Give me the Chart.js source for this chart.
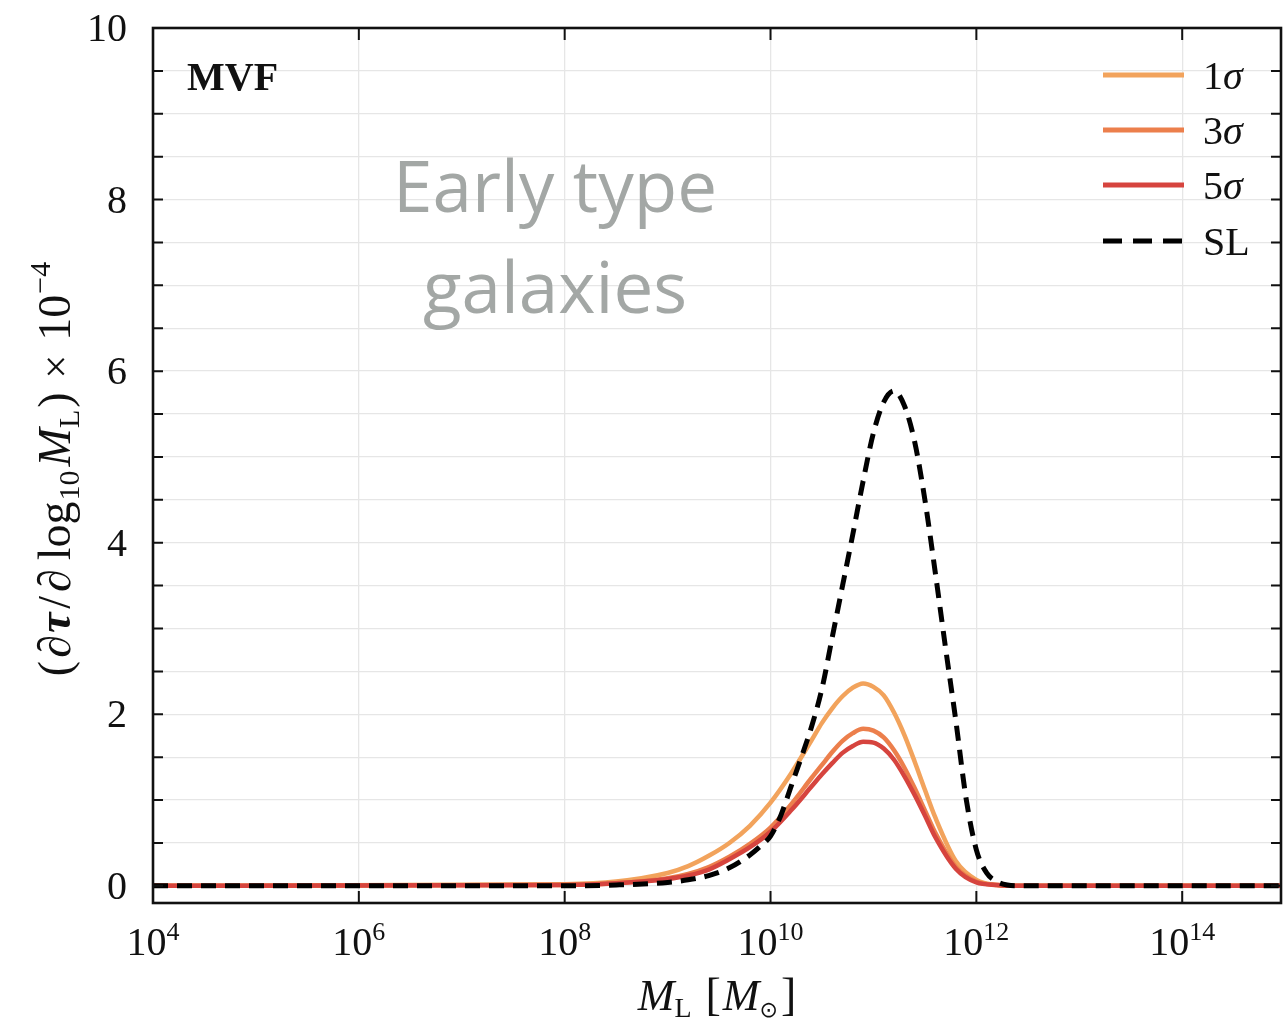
<!DOCTYPE html>
<html>
<head>
  <title>Optical depth per lens mass - early type galaxies</title>
  <script src="https://cdn.jsdelivr.net/npm/chart.js"></script>
  <style>
    body { margin: 0; background: #fff; }
    #wrap { width: 1285px; height: 1021px; }
  </style>
</head>
<body>
<div id="wrap"><canvas id="tauChart" width="1285" height="1021"></canvas></div>
<script>
// axis ticks (x as powers of ten)
const xTickExponents = [4, 6, 8, 10, 12, 14];
const yTickValues = [0, 2, 4, 6, 8, 10];

// curves, x given as log10(M_L / M_sun)
const logMassSigma = [4, 8.0, 8.5, 9.0, 9.2, 9.4, 9.6, 9.8, 10.0, 10.2, 10.4, 10.5, 10.6, 10.7, 10.8, 10.9, 11.0, 11.1, 11.2, 11.3, 11.4, 11.5, 11.6, 11.8, 12.0, 12.2, 12.4, 15];
const sigma1 = [0, 0.02, 0.05, 0.15, 0.23, 0.35, 0.50, 0.70, 0.97, 1.31, 1.70, 1.90, 2.07, 2.21, 2.31, 2.36, 2.32, 2.22, 2.02, 1.76, 1.45, 1.12, 0.80, 0.29, 0.07, 0.01, 0, 0];
const sigma3 = [0, 0.01, 0.03, 0.09, 0.14, 0.22, 0.34, 0.49, 0.68, 0.95, 1.26, 1.41, 1.56, 1.69, 1.78, 1.83, 1.81, 1.73, 1.58, 1.38, 1.14, 0.88, 0.62, 0.22, 0.05, 0.01, 0, 0];
const sigma5 = [0, 0.01, 0.03, 0.08, 0.12, 0.19, 0.31, 0.45, 0.63, 0.88, 1.16, 1.30, 1.43, 1.55, 1.63, 1.68, 1.67, 1.60, 1.47, 1.28, 1.06, 0.82, 0.57, 0.20, 0.04, 0.01, 0, 0];

const logMassSL = [4, 8.0, 8.5, 9.0, 9.2, 9.4, 9.6, 9.8, 9.9, 10.0, 10.1, 10.2, 10.3, 10.4, 10.5, 10.6, 10.7, 10.8, 10.9, 11.0, 11.1, 11.2, 11.3, 11.4, 11.5, 11.6, 11.7, 11.8, 11.9, 12.0, 12.1, 12.2, 12.3, 12.4, 15];
const strongLensing = [0, 0, 0.01, 0.04, 0.07, 0.12, 0.21, 0.36, 0.46, 0.58, 0.82, 1.16, 1.50, 1.86, 2.30, 2.90, 3.50, 4.10, 4.72, 5.28, 5.64, 5.77, 5.60, 5.18, 4.50, 3.66, 2.78, 1.93, 1.02, 0.42, 0.15, 0.05, 0.01, 0, 0];

const seriesLabels = ['1σ', '3σ', '5σ', 'SL'];
const seriesColors = ['#f2a35c', '#ec7f4c', '#d6443e', '#000000'];

const SERIF = '"Liberation Serif", Tinos, "Times New Roman", Times, serif';

function toPoints(logs, vals) {
  return logs.map((e, i) => ({ x: Math.pow(10, e), y: vals[i] }));
}

// draw a row of text pieces with different fonts / offsets
function drawRuns(ctx, runs, x, y, align) {
  let total = 0;
  runs.forEach(r => { ctx.font = r.font; r.w = ctx.measureText(r.t).width + (r.pad || 0); total += r.w; });
  let cx = align === 'center' ? x - total / 2 : (align === 'right' ? x - total : x);
  runs.forEach(r => {
    ctx.font = r.font;
    ctx.fillText(r.t, cx, y + (r.dy || 0));
    cx += r.w;
  });
}

const decor = {
  id: 'decor',
  afterDatasetsDraw(chart) {
    const { ctx, chartArea: a, scales: { x, y } } = chart;
    ctx.save();
    ctx.strokeStyle = '#111';
    ctx.lineWidth = 2;
    // inward ticks
    xTickExponents.forEach(e => {
      const px = x.getPixelForValue(Math.pow(10, e));
      ctx.beginPath();
      ctx.moveTo(px, a.bottom); ctx.lineTo(px, a.bottom - 12);
      ctx.moveTo(px, a.top); ctx.lineTo(px, a.top + 12);
      ctx.stroke();
    });
    y.ticks.forEach(t => {
      const py = y.getPixelForValue(t.value);
      ctx.beginPath();
      ctx.moveTo(a.left, py); ctx.lineTo(a.left + 10, py);
      ctx.moveTo(a.right, py); ctx.lineTo(a.right - 10, py);
      ctx.stroke();
    });
    // frame
    ctx.lineWidth = 2.6;
    ctx.strokeRect(a.left, a.top, a.right - a.left, a.bottom - a.top);
    ctx.restore();
  },
  afterDraw(chart) {
    const { ctx, chartArea: a, scales: { x, y } } = chart;
    ctx.save();
    ctx.fillStyle = '#111';
    ctx.textBaseline = 'alphabetic';

    // y tick labels
    ctx.font = '40px ' + SERIF;
    ctx.textAlign = 'right';
    yTickValues.forEach(v => {
      ctx.fillText(String(v), 127, y.getPixelForValue(v) + 13);
    });

    // x tick labels 10^n
    ctx.textAlign = 'left';
    xTickExponents.forEach(e => {
      const px = x.getPixelForValue(Math.pow(10, e));
      drawRuns(ctx, [
        { t: '10', font: '40px ' + SERIF },
        { t: String(e), font: '26px ' + SERIF, dy: -15 }
      ], px, 955, 'center');
    });

    // x axis title
    drawRuns(ctx, [
      { t: 'M', font: 'italic 44px ' + SERIF },
      { t: 'L', font: '28px ' + SERIF, dy: 7, pad: 14 },
      { t: '[', font: '46px ' + SERIF, pad: 2 },
      { t: 'M', font: 'italic 44px ' + SERIF },
      { t: '⊙', font: '22px "DejaVu Sans", sans-serif', dy: 7, pad: 3 },
      { t: ']', font: '46px ' + SERIF }
    ], (a.left + a.right) / 2, 1010, 'center');

    // y axis title (rotated)
    ctx.save();
    ctx.translate(70, 469);
    ctx.rotate(-Math.PI / 2);
    drawRuns(ctx, [
      { t: '(', font: '46px ' + SERIF, pad: 3 },
      { t: '∂', font: 'italic 46px ' + SERIF, pad: 2 },
      { t: 'τ', font: 'italic bold 46px ' + SERIF, pad: 4 },
      { t: '/', font: '46px ' + SERIF, pad: 4 },
      { t: '∂', font: 'italic 46px ' + SERIF, pad: 9 },
      { t: 'log', font: '46px ' + SERIF, pad: 1 },
      { t: '10', font: '30px ' + SERIF, dy: 9, pad: 4 },
      { t: 'M', font: 'italic 46px ' + SERIF },
      { t: 'L', font: '30px ' + SERIF, dy: 9, pad: 2 },
      { t: ')', font: '46px ' + SERIF, pad: 14 },
      { t: '×', font: '42px ' + SERIF, pad: 14 },
      { t: '10', font: '46px ' + SERIF, pad: 1 },
      { t: '−4', font: '30px ' + SERIF, dy: -20 }
    ], 0, 0, 'center');
    ctx.restore();

    // panel label
    ctx.font = 'bold 40px ' + SERIF;
    ctx.fillText('MVF', 187, 90);

    // annotation
    ctx.fillStyle = '#a3a7a5';
    ctx.textAlign = 'center';
    ctx.font = '71px "Open Sans", sans-serif';
    ctx.fillText('Early type', 555, 212);
    ctx.fillText('galaxies', 555, 313);

    // legend
    const rows = [75, 130, 185, 241];
    ctx.textAlign = 'left';
    chart.data.datasets.forEach((ds, i) => {
      const ly = rows[i];
      ctx.strokeStyle = ds.borderColor;
      ctx.lineWidth = 5;
      ctx.setLineDash(ds.borderDash && ds.borderDash.length ? [19, 11] : []);
      ctx.beginPath();
      ctx.moveTo(1103, ly); ctx.lineTo(1184, ly);
      ctx.stroke();
      ctx.setLineDash([]);
      ctx.fillStyle = '#111';
      const runs = [];
      for (const ch of ds.label) {
        runs.push({ t: ch, font: (ch === 'σ' ? 'italic ' : '') + '40px ' + SERIF });
      }
      drawRuns(ctx, runs, 1203, ly + 14, 'left');
    });
    ctx.restore();
  }
};

const datasets = [
  { label: seriesLabels[0], data: toPoints(logMassSigma, sigma1), borderColor: seriesColors[0], borderWidth: 4.5, order: 3 },
  { label: seriesLabels[1], data: toPoints(logMassSigma, sigma3), borderColor: seriesColors[1], borderWidth: 4.5, order: 2 },
  { label: seriesLabels[2], data: toPoints(logMassSigma, sigma5), borderColor: seriesColors[2], borderWidth: 4.5, order: 1 },
  { label: seriesLabels[3], data: toPoints(logMassSL, strongLensing), borderColor: seriesColors[3], borderWidth: 5, borderDash: [15, 9], order: 0 }
].map(d => Object.assign({ pointRadius: 0, fill: false, cubicInterpolationMode: 'monotone' }, d));

new Chart(document.getElementById('tauChart').getContext('2d'), {
  type: 'line',
  data: { datasets },
  options: {
    responsive: false,
    animation: false,
    devicePixelRatio: 1,
    layout: { padding: { left: 153, right: 4, top: 28, bottom: 118 } },
    plugins: { legend: { display: false }, tooltip: { enabled: false } },
    scales: {
      x: {
        type: 'logarithmic',
        min: 1e4,
        max: Math.pow(10, 14.96),
        afterBuildTicks: s => { s.ticks = xTickExponents.map(e => ({ value: Math.pow(10, e) })); },
        ticks: { display: false },
        grid: { color: '#e6e6e6', lineWidth: 1.3, drawTicks: false },
        border: { display: false }
      },
      y: {
        type: 'linear',
        min: -0.2,
        max: 10,
        afterBuildTicks: s => {
          const t = [];
          for (let v = 0; v <= 10; v += 0.5) t.push({ value: v });
          s.ticks = t;
        },
        ticks: { display: false },
        grid: { color: '#e6e6e6', lineWidth: 1.3, drawTicks: false },
        border: { display: false }
      }
    }
  },
  plugins: [decor]
});
</script>
</body>
</html>
